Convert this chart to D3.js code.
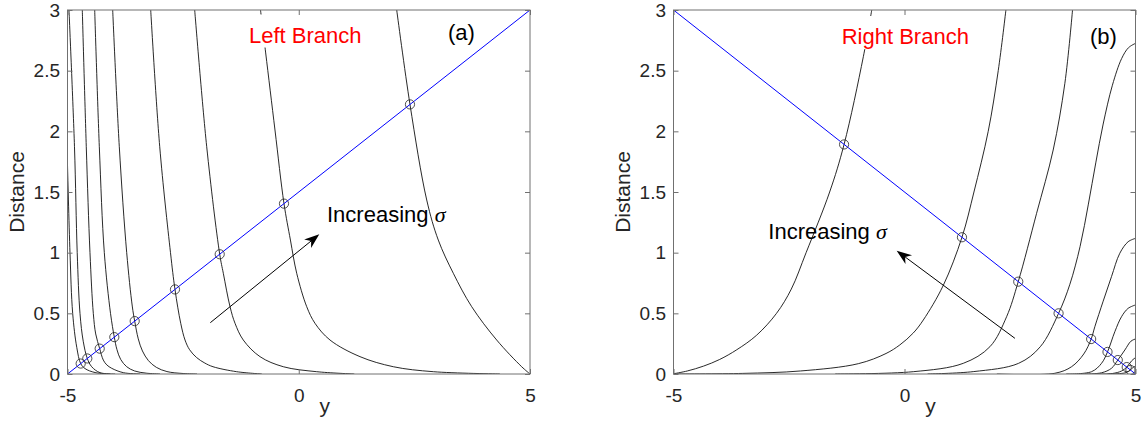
<!DOCTYPE html>
<html>
<head>
<meta charset="utf-8">
<title>Left / Right Branch</title>
<script src="https://d3js.org/d3.v7.min.js"></script>
<style>
    body { margin: 0; background: #fff; }
    text { font-family: "Liberation Sans", Arial, sans-serif; fill: #262626; }
    .curve { fill: none; stroke: #111; stroke-width: 0.9px; }
    .branch { fill: none; stroke: #0000ff; stroke-width: 1px; }
    .mark { fill: none; stroke: #222; stroke-width: 0.8px; }
    .frame { fill: none; stroke: #707070; stroke-width: 1px; }
    .arrow { stroke: #000; stroke-width: 1px; fill: none; }
</style>
</head>
<body>
<script>
    var width = 1143, height = 424;

    var xTicks = [-5, 0, 5];
    var yTicks = [0, 0.5, 1, 1.5, 2, 2.5, 3];

    // panel (a): blue branch line, intersection points, distance curves
    var leftBranch = [[-5, 0], [5, 3]];
    var leftCircles = [[-4.715, 0.086], [-4.572, 0.128], [-4.304, 0.209], [-3.988, 0.304], [-3.547, 0.436],
                       [-2.676, 0.697], [-1.709, 0.987], [-0.319, 1.404], [2.405, 2.222]];
    var leftCurves = [
        [[-5.0, 1.72], [-4.946, 1.0], [-4.888, 0.5], [-4.80, 0.22], [-4.715, 0.086], [-4.622, 0.045], [-4.405, 0.012], [-4.08, 0]],
        [[-4.968, 3.0], [-4.849, 1.873], [-4.79, 1.0], [-4.73, 0.5], [-4.66, 0.27], [-4.572, 0.128], [-4.477, 0.06], [-4.297, 0.011], [-3.97, 0]],
        [[-4.68, 3.0], [-4.594, 1.873], [-4.514, 1.0], [-4.442, 0.5], [-4.39, 0.33], [-4.304, 0.209], [-4.226, 0.115], [-4.15, 0.075], [-4.044, 0.047], [-3.794, 0.011], [-3.43, 0]],
        [[-4.412, 3.0], [-4.312, 1.873], [-4.204, 1.0], [-4.07, 0.5], [-3.988, 0.304], [-3.93, 0.2], [-3.85, 0.12], [-3.72, 0.06], [-3.55, 0.025], [-3.3, 0.007], [-3.0, 0]],
        [[-4.023, 3.0], [-3.88, 1.873], [-3.72, 1.0], [-3.6, 0.56], [-3.547, 0.436], [-3.47, 0.29], [-3.38, 0.19], [-3.25, 0.11], [-3.08, 0.055], [-2.85, 0.02], [-2.5, 0.004], [-2.2, 0]],
        [[-3.201, 3.0], [-3.006, 1.873], [-2.773, 1.0], [-2.676, 0.697], [-2.552, 0.418], [-2.459, 0.28], [-2.36, 0.2], [-2.207, 0.135], [-2.03, 0.09], [-1.854, 0.06], [-1.342, 0.019], [-0.8, 0]],
        [[-2.25, 3.0], [-1.99, 1.873], [-1.709, 0.987], [-1.631, 0.83], [-1.486, 0.555], [-1.378, 0.418], [-1.199, 0.28], [-0.838, 0.143], [-0.334, 0.06], [0.388, 0.019], [1.2, 0]],
        [[-0.827, 3.0], [-0.715, 2.646], [-0.514, 2.011], [-0.319, 1.404], [-0.18, 1.104], [-0.044, 0.83], [0.172, 0.555], [0.351, 0.418], [0.676, 0.28], [1.324, 0.143], [2.045, 0.06], [2.91, 0.019], [4.35, 0]],
        [[2.118, 3.0], [2.405, 2.222], [2.767, 1.434], [3.017, 1.104], [3.342, 0.83], [3.739, 0.555], [4.28, 0.28], [4.82, 0.06], [5.0, 0]]
    ];

    // panel (b)
    var rightBranch = [[-5, 3], [5, 0]];
    var rightCircles = [[-1.308, 1.892], [1.244, 1.127], [2.462, 0.761], [3.335, 0.5], [4.04, 0.288],
                        [4.394, 0.182], [4.617, 0.115], [4.81, 0.057], [4.89, 0.033]];
    var rightCurves = [
        [[-5.0, 0.002], [-4.7, 0.025], [-4.35, 0.065], [-4.0, 0.12], [-3.63, 0.2], [-3.2, 0.32], [-2.77, 0.5], [-2.45, 0.7], [-2.13, 1.0], [-1.62, 1.5], [-1.308, 1.892], [-0.891, 2.615], [-0.709, 3.0]],
        [[-5.0, 0], [-3.5, 0.005], [-2.25, 0.025], [-1.0, 0.085], [-0.4, 0.169], [-0.1, 0.24], [0.19, 0.338], [0.407, 0.445], [0.839, 0.73], [1.244, 1.127], [1.503, 1.5], [1.812, 2.0], [2.029, 2.5], [2.195, 3.0]],
        [[-1.5, 0], [0.19, 0.019], [1.272, 0.088], [1.849, 0.225], [2.21, 0.472], [2.462, 0.761], [2.859, 1.324], [3.218, 1.846], [3.471, 2.396], [3.637, 3.0]],
        [[0.5, 0], [1.5, 0.02], [2.47, 0.088], [2.94, 0.225], [3.335, 0.5], [3.58, 0.74], [3.80, 1.05], [3.98, 1.40], [4.14, 1.74], [4.3, 2.06], [4.5, 2.38], [4.7, 2.6], [4.85, 2.69], [5.0, 2.725]],
        [[2.0, 0], [3.255, 0.006], [3.616, 0.06], [3.88, 0.165], [4.04, 0.288], [4.12, 0.39], [4.3, 0.6], [4.48, 0.802], [4.66, 0.995], [4.84, 1.09], [5.0, 1.118]],
        [[3.5, 0], [4.048, 0.019], [4.265, 0.088], [4.394, 0.182], [4.553, 0.349], [4.697, 0.472], [4.84, 0.541], [5.0, 0.569]],
        [[3.9, 0], [4.265, 0.01], [4.48, 0.047], [4.617, 0.115], [4.77, 0.198], [4.9, 0.27], [5.0, 0.289]],
        [[4.2, 0], [4.5, 0.004], [4.7, 0.025], [4.81, 0.057], [4.92, 0.11], [5.0, 0.135]],
        [[4.4, 0], [4.6, 0.002], [4.8, 0.012], [4.89, 0.033], [4.95, 0.055], [5.0, 0.065]]
    ];

    var svg = d3.select("body").append("svg")
        .attr("width", width)
        .attr("height", height);

    var panels = [
        {id: "a", left: 67.5, right: 530, branch: leftBranch, circles: leftCircles, curves: leftCurves,
         title: "Left Branch", titleAt: [-1.076, 2.732], tag: "(a)", tagAt: [3.227, 2.75],
         note: [0.611, 1.249], arrow: [[-1.912, 0.423], [0.444, 1.151]], ylab: 24},
        {id: "b", left: 673.5, right: 1135.5, branch: rightBranch, circles: rightCircles, curves: rightCurves,
         title: "Right Branch", titleAt: [-1.359, 2.72], tag: "(b)", tagAt: [4.015, 2.72],
         note: [-2.948, 1.113], arrow: [[2.39, 0.294], [-0.169, 1.016]], ylab: 630}
    ];

    var plotTop = 10, plotBottom = 374;

    panels.forEach(function(p) {
        var x = d3.scaleLinear().domain([-5, 5]).range([p.left, p.right]);
        var y = d3.scaleLinear().domain([0, 3]).range([plotBottom, plotTop]);
        var g = svg.append("g");

        g.append("clipPath").attr("id", "clip-" + p.id)
            .append("rect")
            .attr("x", p.left).attr("y", plotTop)
            .attr("width", p.right - p.left).attr("height", plotBottom - plotTop);

        var line = d3.line()
            .x(function(d) { return x(d[0]); })
            .y(function(d) { return y(d[1]); })
            .curve(d3.curveCatmullRom.alpha(0.5));

        var plot = g.append("g").attr("clip-path", "url(#clip-" + p.id + ")");

        plot.selectAll("path.curve")
            .data(p.curves)
            .join("path")
            .attr("class", "curve")
            .attr("d", line);

        plot.append("path")
            .attr("class", "branch")
            .attr("d", d3.line().x(function(d) { return x(d[0]); }).y(function(d) { return y(d[1]); })(p.branch));

        plot.selectAll("circle")
            .data(p.circles)
            .join("circle")
            .attr("class", "mark")
            .attr("cx", function(d) { return x(d[0]); })
            .attr("cy", function(d) { return y(d[1]); })
            .attr("r", 4.6);

        // red title with white box behind it (it hides the curve under it)
        var box = g.append("rect").attr("fill", "#fff");
        var title = g.append("text")
            .attr("x", x(p.titleAt[0]))
            .attr("y", y(p.titleAt[1]))
            .style("fill", "#ff0000")
            .style("font-size", "22px")
            .text(p.title);
        var bb = title.node().getBBox();
        box.attr("x", bb.x - 8).attr("y", bb.y - 8)
            .attr("width", bb.width + 16).attr("height", bb.height + 8);

        g.append("text")
            .attr("x", x(p.tagAt[0]))
            .attr("y", y(p.tagAt[1]))
            .style("font-size", "22px")
            .style("fill", "#000")
            .text(p.tag);

        var note = g.append("text")
            .attr("x", x(p.note[0]))
            .attr("y", y(p.note[1]))
            .style("font-size", "22px")
            .style("fill", "#000");
        note.append("tspan").text("Increasing ");
        note.append("tspan")
            .style("font-family", "'Liberation Serif', 'DejaVu Serif', serif")
            .style("font-style", "italic")
            .text("σ");

        // arrow
        var a0 = [x(p.arrow[0][0]), y(p.arrow[0][1])];
        var a1 = [x(p.arrow[1][0]), y(p.arrow[1][1])];
        var ang = Math.atan2(a1[1] - a0[1], a1[0] - a0[0]);
        var hl = 15, hw = 5.5;
        function pt(along, across) {
            return [a1[0] - along * Math.cos(ang) - across * Math.sin(ang),
                    a1[1] - along * Math.sin(ang) + across * Math.cos(ang)];
        }
        var shaft = pt(hl * 0.7, 0);
        g.append("line").attr("class", "arrow")
            .attr("x1", a0[0]).attr("y1", a0[1])
            .attr("x2", shaft[0]).attr("y2", shaft[1]);
        g.append("path")
            .attr("fill", "#000")
            .attr("d", "M" + [a1, pt(hl, hw), pt(hl * 0.7, 0), pt(hl, -hw)].join("L") + "Z");

        // axes: ticks point inwards on all four sides
        var xb = g.append("g").attr("transform", "translate(0," + plotBottom + ")")
            .call(d3.axisBottom(x).tickValues(xTicks).tickSize(-5).tickSizeOuter(0).tickPadding(14.5)
                .tickFormat(function(d) { return String(d); }));
        var xt = g.append("g").attr("transform", "translate(0," + plotTop + ")")
            .call(d3.axisTop(x).tickValues(xTicks).tickSize(-5).tickSizeOuter(0).tickFormat(""));
        var yl = g.append("g").attr("transform", "translate(" + p.left + ",0)")
            .call(d3.axisLeft(y).tickValues(yTicks).tickSize(-5).tickSizeOuter(0).tickPadding(7.5)
                .tickFormat(function(d) { return String(d); }));
        var yr = g.append("g").attr("transform", "translate(" + p.right + ",0)")
            .call(d3.axisRight(y).tickValues(yTicks).tickSize(-5).tickSizeOuter(0).tickFormat(""));

        [xb, xt, yl, yr].forEach(function(ax) {
            ax.selectAll(".domain").remove();
            ax.selectAll(".tick line").attr("stroke", "#707070");
            ax.selectAll("text").style("font-size", "19px").attr("fill", "#262626")
                .style("font-family", "'Liberation Sans', Arial, sans-serif");
        });

        g.append("rect")
            .attr("class", "frame")
            .attr("x", p.left).attr("y", plotTop)
            .attr("width", p.right - p.left).attr("height", plotBottom - plotTop);

        // axis labels
        g.append("text")
            .attr("transform", "translate(" + p.ylab + "," + ((plotTop + plotBottom) / 2) + ") rotate(-90)")
            .attr("text-anchor", "middle")
            .style("font-size", "21px")
            .text("Distance");

        g.append("text")
            .attr("x", (p.left + p.right) / 2 + 26)
            .attr("y", 413)
            .attr("text-anchor", "middle")
            .style("font-size", "21px")
            .text("y");
    });
</script>
</body>
</html>
